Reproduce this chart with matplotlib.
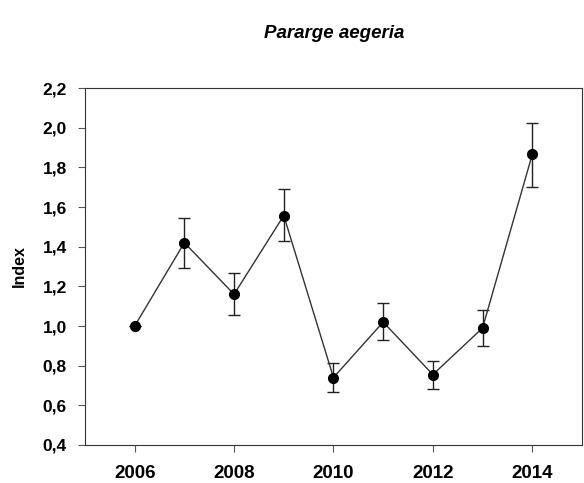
import matplotlib
matplotlib.use("Agg")
import matplotlib.pyplot as plt

years = [2006, 2007, 2008, 2009, 2010, 2011, 2012, 2013, 2014]
index = [1.00, 1.42, 1.16, 1.557, 0.74, 1.02, 0.755, 0.99, 1.865]
err_low = [1.00, 1.295, 1.055, 1.43, 0.665, 0.93, 0.68, 0.90, 1.70]
err_high = [1.00, 1.545, 1.265, 1.69, 0.815, 1.115, 0.825, 1.08, 2.025]

plt.rcParams['font.family'] = ['Liberation Sans', 'DejaVu Sans']

fig = plt.figure(figsize=(5.84, 4.83), dpi=100)
ax = fig.add_axes([0.1455, 0.0787, 0.851, 0.739])

yerr = [[v - lo for v, lo in zip(index, err_low)], [hi - v for v, hi in zip(index, err_high)]]
ax.errorbar(years, index, yerr=yerr, fmt='none', ecolor='#222222', elinewidth=1.0,
            capsize=4.5, capthick=1.0, zorder=2)
ax.plot(years, index, color='#333333', linewidth=1.0, zorder=3)
ax.plot(years, index, 'o', color='black', markersize=7, zorder=4)

ax.set_xlim(2005, 2015)
ax.set_ylim(0.4, 2.2)
ax.set_xticks([2006, 2008, 2010, 2012, 2014])
yt = [0.4, 0.6, 0.8, 1.0, 1.2, 1.4, 1.6, 1.8, 2.0, 2.2]
ax.set_yticks(yt)
ax.set_yticklabels([f"{v:.1f}".replace('.', ',') for v in yt])
ax.tick_params(direction='out', length=5, width=0.8, color='#555555')
ax.tick_params(axis='y', labelsize=12.5, pad=8)
ax.tick_params(axis='x', labelsize=13.5, pad=9.5)
for lab in ax.get_xticklabels() + ax.get_yticklabels():
    lab.set_fontweight('bold')
for s in ax.spines.values():
    s.set_linewidth(0.8)
    s.set_color('#333333')

ax.set_ylabel('Index', fontsize=11.5, fontweight='bold', labelpad=11)
fig.text(0.573, 0.931, 'Pararge aegeria', ha='center', va='center', fontsize=13.5,
         fontweight='bold', style='italic')

fig.savefig('out.png', dpi=100)
